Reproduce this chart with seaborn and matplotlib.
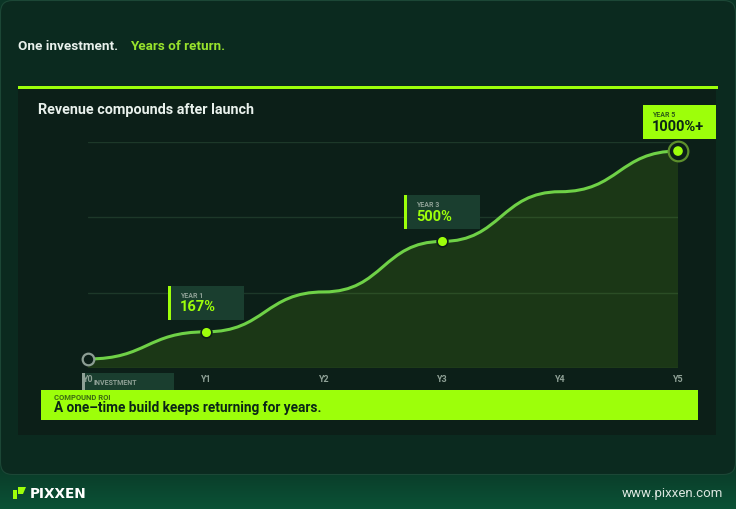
import numpy as np
import pandas as pd
import seaborn as sns
import matplotlib.pyplot as plt
from matplotlib.patches import Rectangle, FancyBboxPatch, PathPatch, Polygon
from matplotlib.path import Path
from matplotlib.colors import LinearSegmentedColormap

# ---------------- data ----------------
years = ["Y0", "Y1", "Y2", "Y3", "Y4", "Y5"]
roi_index = [12, 48, 101, 168, 234, 288]      # curve height on a 0-300 scale
grid_levels = [0, 100, 200, 300]
callout_years = ["Y1", "Y3", "Y5"]
callout_titles = ["YEAR 1", "YEAR 3", "YEAR 5"]
callout_values = ["167%", "500%", "1000%+"]

# ---------------- style ----------------
W, H = 736, 509
LIME = "#9dff0a"
LINE = "#6fd147"
PANEL = "#0c1f18"
CARD = "#0b2a1f"
MUTED = "#8fa196"
BOX = "#1a3e2f"
WHITE = "#e9f1ec"
DARK = "#0b2616"

sns.set_theme(style="dark")
plt.rcParams["font.family"] = ["Roboto", "DejaVu Sans"]

df = pd.DataFrame({"year": years, "x": np.arange(len(years)), "roi": roi_index})

fig = plt.figure(figsize=(W / 100, H / 100), dpi=100)
fig.patch.set_facecolor("#0b3526")

# background layer, pixel coords with y pointing down
bg = fig.add_axes([0, 0, 1, 1], zorder=0)
foot = LinearSegmentedColormap.from_list("foot", ["#0a2a1e", "#0b5236"])
bg.imshow(np.linspace(0, 1, 80)[:, None], cmap=foot, extent=(0, W, H, 440), aspect="auto")
bg.set_xlim(0, W)
bg.set_ylim(H, 0)
bg.axis("off")

bg.add_patch(FancyBboxPatch((0.5, 0.5), W - 1, 474, boxstyle="round,pad=0,rounding_size=12",
                            fc=CARD, ec="#1c4736", lw=0.8))
bg.add_patch(Rectangle((18, 89), 698, 346, fc=PANEL, ec="none"))
bg.add_patch(Rectangle((18, 86), 700, 3, fc=LIME, ec="none"))

bg.text(18, 46, "One investment.", color=WHITE, fontsize=9.7, fontweight="bold", va="center")
bg.text(130, 46, "Years of return.", color="#98e22c", fontsize=9.7, fontweight="bold", va="center")
bg.text(38, 110, "Revenue compounds after launch", color=WHITE, fontsize=10.4, fontweight="bold", va="center")

# footer
bg.add_patch(Polygon([(13, 490), (17, 490), (17, 499), (13, 499)], fc=LIME, ec="none"))
bg.add_patch(Polygon([(18, 487), (26, 487), (23, 494), (18, 494)], fc=LIME, ec="none"))
bg.text(30, 494.5, "PIXXEN", color="white", fontsize=9.8, fontweight="bold", va="center",
        family=["DejaVu Sans"])
bg.text(723, 493, "www.pixxen.com", color="#dbe6df", fontsize=9.5, ha="right", va="center")

# ---------------- chart ----------------
ax = fig.add_axes([88 / W, 1 - 368 / H, 590 / W, 226 / H], zorder=2)
ax.patch.set_alpha(0)
ax.set_xlim(0, len(years) - 1)
ax.set_ylim(grid_levels[0], grid_levels[-1])

# bump curve: cubic segments with flat tangents at every year
xs = df["x"].tolist()
verts = [(xs[0], roi_index[0])]
codes = [Path.MOVETO]
for i in range(1, len(xs)):
    xm = (xs[i - 1] + xs[i]) / 2
    verts += [(xm, roi_index[i - 1]), (xm, roi_index[i]), (xs[i], roi_index[i])]
    codes += [Path.CURVE4] * 3
area = Path(verts + [(xs[-1], 0), (xs[0], 0), (xs[0], roi_index[0])],
            codes + [Path.LINETO, Path.LINETO, Path.CLOSEPOLY])
ax.add_patch(PathPatch(area, fc=LIME, alpha=0.11, ec="none", zorder=1))
ax.add_patch(PathPatch(Path(verts, codes), fill=False, ec=LINE, lw=2.2, capstyle="round", zorder=3))

# markers
sns.scatterplot(data=df.iloc[[0]], x="x", y="roi", s=70, color=PANEL, edgecolor="#8d9e94",
                linewidth=1.6, ax=ax, zorder=5, clip_on=False)
mid = df[df["year"].isin(callout_years[:-1])]
sns.scatterplot(data=mid, x="x", y="roi", s=60, color=LIME, edgecolor=PANEL,
                linewidth=1.2, ax=ax, zorder=5, clip_on=False)
last = df[df["year"] == callout_years[-1]]
sns.scatterplot(data=last, x="x", y="roi", s=200, color=PANEL, edgecolor="#5d8f2c",
                linewidth=1.6, ax=ax, zorder=5, clip_on=False)
sns.scatterplot(data=last, x="x", y="roi", s=48, color=LIME, edgecolor="none",
                ax=ax, zorder=6, clip_on=False)

ax.set_yticks(grid_levels)
ax.set_yticklabels([])
ax.set_xticks(df["x"], years)
ax.grid(axis="y", color="#1d3829", lw=1)
ax.grid(axis="x", visible=False)
ax.tick_params(axis="both", length=0)
ax.tick_params(axis="x", pad=5, labelsize=6.5, labelcolor=MUTED)
for lab in ax.get_xticklabels():
    lab.set_fontweight("bold")
ax.set_xlabel("")
ax.set_ylabel("")
sns.despine(ax=ax, left=True, bottom=True)


def to_px(x, y):
    dx, dy = ax.transData.transform((x, y))
    return dx, H - dy


# investment tag under Y0 (sits behind the chart layer)
ix, iy = to_px(0, 0)
bg.add_patch(Rectangle((ix - 6, iy + 5), 92, 30, fc=BOX, ec="none"))
bg.add_patch(Rectangle((ix - 6, iy + 5), 2.5, 30, fc=MUTED, ec="none"))
bg.text(ix + 6, iy + 15, "INVESTMENT", color=MUTED, fontsize=5, fontweight="bold", va="center")

# ---------------- overlay ----------------
top = fig.add_axes([0, 0, 1, 1], zorder=5)
top.set_xlim(0, W)
top.set_ylim(H, 0)
top.axis("off")

for yr, title, val in zip(callout_years, callout_titles, callout_values):
    row = df[df["year"] == yr].iloc[0]
    px, py = to_px(row["x"], row["roi"])
    y0 = py - 46
    if yr == years[-1]:
        left = px - 35
        top.add_patch(Rectangle((left, y0), 73, 34, fc=LIME, ec="none"))
        tx, c_title, c_val = left + 9, "#2f5e14", DARK
    else:
        left = px - 38
        top.add_patch(Rectangle((left, y0), 76, 34, fc=BOX, ec="none"))
        top.add_patch(Rectangle((left, y0), 3, 34, fc=LIME, ec="none"))
        tx, c_title, c_val = left + 12, MUTED, LIME
    top.text(tx, y0 + 10, title, color=c_title, fontsize=5, fontweight="bold", va="center")
    top.text(tx, y0 + 21.5, val, color=c_val, fontsize=10.5, fontweight="bold", va="center")

# bottom banner
top.add_patch(Rectangle((41, 390), 657, 30, fc=LIME, ec="none"))
top.text(54, 397.5, "COMPOUND ROI", color="#3b6a12", fontsize=5.5, fontweight="bold", va="center")
top.text(54, 408, "A one–time build keeps returning for years.", color=DARK, fontsize=9.8,
         fontweight="bold", va="center")

fig.savefig("out.png", dpi=100, facecolor=fig.get_facecolor())
